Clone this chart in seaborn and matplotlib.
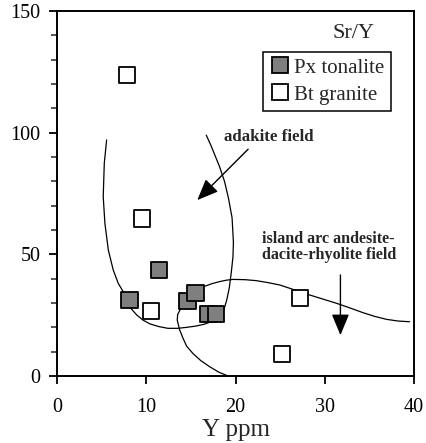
import numpy as np
import pandas as pd
import seaborn as sns
import matplotlib
matplotlib.use("Agg")
import matplotlib.pyplot as plt
from matplotlib.ticker import MultipleLocator

# ---- data ----
px_y = [8.1, 11.4, 14.6, 15.5, 16.9, 17.8]
px_sry = [31.4, 43.6, 30.8, 34.0, 25.4, 25.4]
bt_y = [7.8, 9.5, 10.5, 27.2, 25.2]
bt_sry = [123.8, 64.7, 26.8, 32.2, 8.9]
groups = ["Px tonalite", "Bt granite"]

adakite_x = [5.53, 5.27, 5.15, 5.34, 5.72, 6.27, 6.83, 7.4, 7.7, 8.3, 8.9, 9.6, 10.4,
             11.4, 12.4, 13.5, 14.5, 15.5, 16.4, 17.4, 18.2, 18.7, 19.0, 19.3,
             19.5, 19.7, 19.75, 19.6, 19.2, 18.75, 18.2, 17.7, 17.2, 16.7]
adakite_yv = [97.0, 87.4, 73.7, 62.7, 51.8, 43.6, 38.1, 34.6, 31.0, 27.6, 25.1, 23.0,
              21.4, 20.3, 19.6, 19.6, 20.0, 20.5, 21.2, 22.5, 24.4, 27.5, 31.2,
              36.5, 42.2, 49.0, 55.0, 65.0, 73.0, 80.0, 86.0, 90.5, 95.0, 99.0]
arc_x = [19.15, 18.1, 17.1, 16.1, 15.2, 14.5, 14.1, 13.7, 13.45, 13.5, 13.75, 14.2,
         14.9, 15.6, 16.4, 17.3, 18.2, 19.0, 19.7, 21.0, 22.3, 23.6, 24.95, 26.6,
         28.3, 29.8, 31.3, 32.8, 34.3, 35.6, 36.9, 38.2, 39.5]
arc_yv = [0.0, 1.6, 3.8, 6.3, 9.3, 12.3, 15.5, 19.2, 23.0, 25.3, 27.1, 29.8,
          32.6, 34.9, 36.7, 37.9, 38.8, 39.4, 39.7, 39.6, 39.2, 38.4, 37.4, 35.4,
          33.3, 31.6, 29.9, 28.0, 26.0, 24.5, 23.3, 22.6, 22.3]

x_ticks = [0, 10, 20, 30, 40]
y_ticks = [0, 50, 100, 150]

df = pd.DataFrame({
    "Y": px_y + bt_y,
    "SrY": px_sry + bt_sry,
    "rock": [groups[0]] * len(px_y) + [groups[1]] * len(bt_y),
})

sns.set_style("ticks")
plt.rcParams["font.family"] = ["Liberation Serif", "DejaVu Serif"]
plt.rcParams["axes.linewidth"] = 1.4

fig = plt.figure(figsize=(4.26, 4.43), dpi=100)
ax = fig.add_axes([0.1345, 0.1512, 0.8373, 0.824])

# field boundaries
ax.plot(adakite_x, adakite_yv, color="black", lw=0.9, zorder=1,
        solid_joinstyle="round")
ax.plot(arc_x, arc_yv, color="black", lw=0.9, zorder=1,
        solid_joinstyle="round")

sns.scatterplot(data=df, x="Y", y="SrY", hue="rock", hue_order=groups,
                palette={groups[0]: "#7f7f7f", groups[1]: "white"},
                marker="s", s=135, edgecolor="black", linewidth=1.3,
                ax=ax, zorder=3)

ax.set_xlim(0, 40)
ax.set_ylim(0, 150)
ax.set_xticks(x_ticks)
ax.set_yticks(y_ticks)
ax.yaxis.set_minor_locator(MultipleLocator(10))
ax.tick_params(axis="both", which="major", direction="out", length=6,
               width=1.3, labelsize=14.5, colors="black")
ax.tick_params(axis="x", which="major", pad=9.5)
ax.tick_params(axis="y", which="major", pad=6)
ax.tick_params(axis="y", which="minor", direction="out", length=4, width=1.1)
for s in ax.spines.values():
    s.set_visible(True)
    s.set_color("black")
ax.set_xlabel("Y ppm", fontsize=18, labelpad=2)
ax.set_ylabel("")

# annotations
arrow_style = dict(arrowstyle="-|>,head_length=0.65,head_width=0.27",
                   mutation_scale=20, color="black", lw=1.0,
                   shrinkA=0, shrinkB=0)
ax.text(35.6, 140.9, "Sr/Y", ha="right", va="center", fontsize=16)
ax.text(18.7, 98.4, "adakite field", ha="left", va="center", fontsize=12.2,
        fontweight="bold")
ax.annotate("", xy=(15.7, 72.3), xytext=(21.4, 93.2), arrowprops=arrow_style)
ax.text(22.97, 52.95, "island arc andesite-\ndacite-rhyolite field",
        ha="left", va="center", fontsize=11.6, fontweight="bold",
        linespacing=1.05)
ax.annotate("", xy=(31.75, 16.8), xytext=(31.75, 41.5), arrowprops=arrow_style)

leg = ax.legend(loc="upper left", bbox_to_anchor=(0.577, 0.888), frameon=True,
                fancybox=False, edgecolor="black", fontsize=15, title=None,
                handletextpad=0.2, borderpad=0.3, labelspacing=0.35,
                handlelength=1.0, borderaxespad=0, framealpha=1)
leg.get_frame().set_linewidth(1.1)
for h in leg.legend_handles:
    try:
        h.set_sizes([150])
    except Exception:
        pass

fig.savefig("out.png", dpi=100)
